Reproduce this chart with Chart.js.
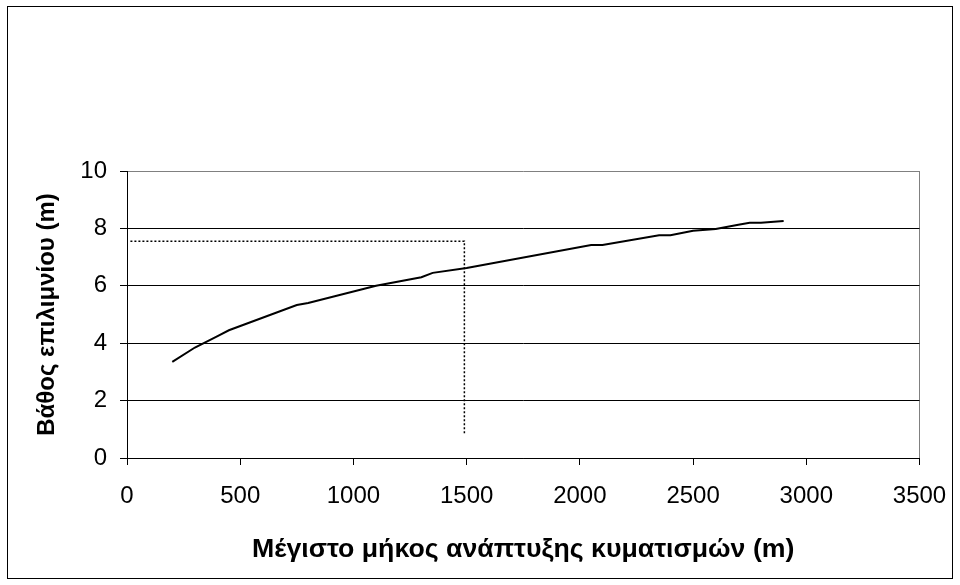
<!DOCTYPE html>
<html>
<head>
<meta charset="utf-8">
<script src="https://cdn.jsdelivr.net/npm/chart.js@4.4.1/dist/chart.umd.min.js"></script>
<style>
html,body{margin:0;padding:0;background:#fff;}
#wrap{width:960px;height:585px;position:relative;}
</style>
</head>
<body>
<div id="wrap"><canvas id="c" width="960" height="585"></canvas></div>
<script>
// Fetch length (m) vs. epilimnion depth (m)
const fetchX = [200, 300, 400, 450, 750, 800, 1100, 1300, 1350, 1500, 2050, 2100, 2350, 2400, 2500, 2600, 2700, 2750, 2800, 2900];
const depthY = [3.35, 3.85, 4.25, 4.45, 5.33, 5.4, 6.0, 6.3, 6.45, 6.62, 7.42, 7.42, 7.76, 7.76, 7.92, 7.98, 8.13, 8.2, 8.2, 8.26];
// Dotted reading guide
const guideX = [15, 1490, 1490];
const guideY = [7.55, 7.55, 0.85];

const xTitle = 'Μέγιστο μήκος ανάπτυξης κυματισμών (m)';
const yTitle = 'Βάθος επιλιμνίου (m)';
const xMin = 0, xMax = 3500, xStep = 500;
const yMin = 0, yMax = 10, yStep = 2;

const toPts = (xs, ys) => xs.map((x, i) => ({x: x, y: ys[i]}));

const frame = {
  id: 'frame',
  beforeDraw(chart) {
    const ctx = chart.ctx;
    ctx.save();
    ctx.fillStyle = '#fff';
    ctx.fillRect(0, 0, chart.width, chart.height);
    ctx.strokeStyle = '#000';
    ctx.lineWidth = 1;
    ctx.strokeRect(7.5, 6.5, 945, 572);
    ctx.restore();
  }
};

new Chart(document.getElementById('c'), {
  type: 'scatter',
  data: {
    datasets: [
      {
        data: toPts(fetchX, depthY),
        showLine: true,
        borderColor: '#000',
        borderWidth: 2,
        pointRadius: 0,
        tension: 0
      },
      {
        data: toPts(guideX, guideY),
        showLine: true,
        borderColor: '#000',
        borderWidth: 1.5,
        borderDash: [2, 2],
        pointRadius: 0,
        tension: 0
      }
    ]
  },
  options: {
    responsive: false,
    animation: false,
    devicePixelRatio: 1,
    layout: {padding: {top: 171, right: 40.5, left: 10, bottom: 10}},
    plugins: {legend: {display: false}, tooltip: {enabled: false}},
    scales: {
      x: {
        type: 'linear',
        min: xMin, max: xMax,
        afterFit(s) { s.height = 117; s.paddingRight = 0; s.paddingLeft = 0; },
        ticks: {stepSize: xStep, color: '#000', padding: 17, maxRotation: 0,
                callback: v => String(v),
                font: {family: 'Liberation Sans', size: 24}},
        grid: {
          drawTicks: true, tickLength: 7,
          color: c => (c.tick && c.tick.value === xMax) ? '#808080' : 'rgba(0,0,0,0)',
          tickColor: '#000', lineWidth: 1
        },
        border: {color: '#000', width: 1},
        title: {display: true, text: xTitle, color: '#000',
                font: {family: 'Liberation Sans', size: 26.7, weight: 'bold'},
                padding: {top: 0, bottom: 9}}
      },
      y: {
        type: 'linear',
        min: yMin, max: yMax,
        afterFit(s) { s.width = 117; },
        ticks: {stepSize: yStep, color: '#000', padding: 13,
                callback: v => String(v),
                font: {family: 'Liberation Sans', size: 24}},
        grid: {
          drawTicks: true, tickLength: 7,
          color: c => (c.tick && c.tick.value === yMax) ? '#808080' : '#000',
          tickColor: '#000', lineWidth: 1
        },
        border: {color: '#000', width: 1},
        title: {display: true, text: yTitle, color: '#000',
                font: {family: 'Liberation Sans', size: 24, weight: 'bold'},
                padding: {top: 23, bottom: 0}}
      }
    }
  },
  plugins: [frame]
});
</script>
</body>
</html>
